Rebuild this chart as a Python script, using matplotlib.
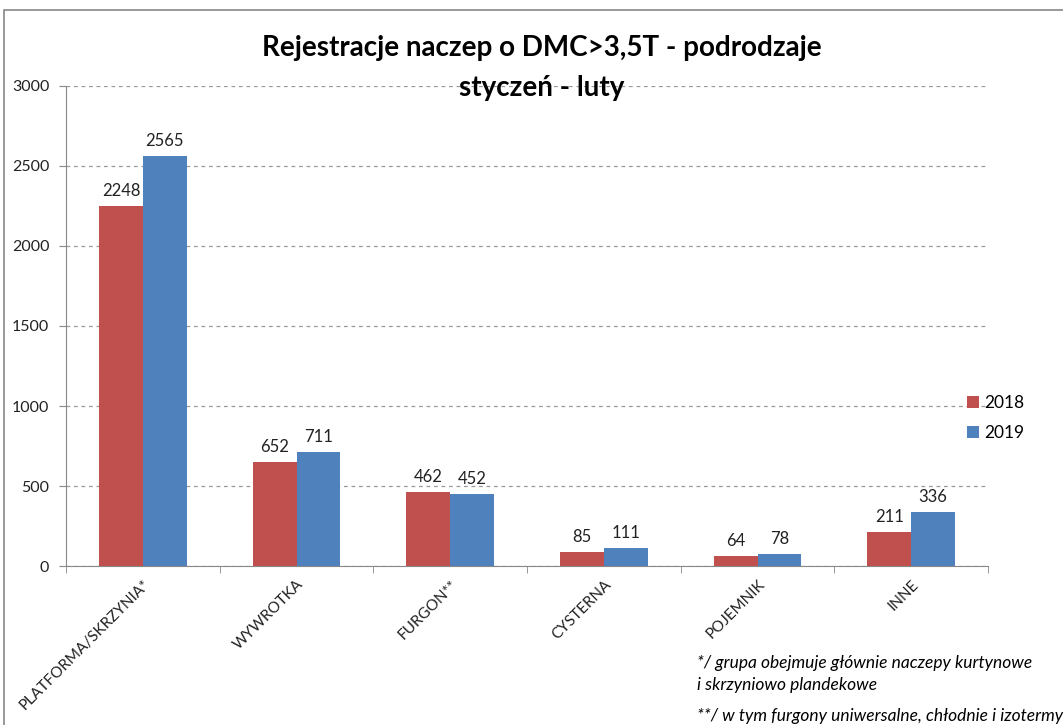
import numpy as np
import matplotlib.pyplot as plt
from matplotlib.patches import Rectangle

categories = ['PLATFORMA/SKRZYNIA*', 'WYWROTKA', 'FURGON**', 'CYSTERNA', 'POJEMNIK', 'INNE']
vals_2018 = [2248, 652, 462, 85, 64, 211]
vals_2019 = [2565, 711, 452, 111, 78, 336]
years = ['2018', '2019']

red = '#C0504D'
blue = '#4F81BD'

plt.rcParams['font.family'] = ['Lato', 'DejaVu Sans']

fig = plt.figure(figsize=(10.63, 7.25), dpi=100)
ax = fig.add_axes([0.0621, 0.2193, 0.8674, 0.6621])

x = np.arange(len(categories))
w = 0.285
b1 = ax.bar(x - w / 2, vals_2018, w, color=red, label=years[0], zorder=3)
b2 = ax.bar(x + w / 2, vals_2019, w, color=blue, label=years[1], zorder=3)

# value labels above the bars
for bars in (b1, b2):
    for rect in bars:
        h = rect.get_height()
        ax.annotate(f'{h:.0f}', (rect.get_x() + rect.get_width() / 2, h),
                    xytext=(0, 5), textcoords='offset points',
                    ha='center', va='bottom', fontsize=12, color='#222222')

ax.set_xlim(-0.5, len(categories) - 0.5)
ax.set_ylim(0, 3000)
ax.set_yticks(range(0, 3001, 500))
ax.yaxis.grid(True, linestyle=(0, (3, 3)), color='#999999', linewidth=0.9, zorder=0)

ax.set_xticks(x)
ax.set_xticklabels(categories, rotation=45, ha='right', va='top',
                   rotation_mode='anchor', fontsize=11, color='#222222')
ax.set_xticks(np.arange(-0.5, len(categories)), minor=True)
ax.tick_params(axis='x', which='major', length=0, pad=8)
ax.tick_params(axis='x', which='minor', length=5, color='#888888')
ax.tick_params(axis='y', length=5, color='#888888', labelsize=11.5,
               labelcolor='#222222', pad=7)

for side in ('top', 'right'):
    ax.spines[side].set_visible(False)
for side in ('left', 'bottom'):
    ax.spines[side].set_color('#888888')

ax.legend(loc='center left', bbox_to_anchor=(0.96, 0.308), frameon=False,
          fontsize=12.5, handlelength=0.7, handleheight=0.7, handletextpad=0.3,
          labelspacing=0.8)

fig.text(0.51, 0.934, 'Rejestracje naczep o DMC>3,5T - podrodzaje',
         ha='center', va='center', fontsize=20, fontweight='bold')
fig.text(0.51, 0.878, 'styczeń - luty', ha='center', va='center',
         fontsize=20, fontweight='bold')

fig.text(0.656, 0.085, '*/ grupa obejmuje głównie naczepy kurtynowe',
         ha='left', va='center', fontsize=12.5, style='italic')
fig.text(0.656, 0.055, 'i skrzyniowo plandekowe',
         ha='left', va='center', fontsize=12.5, style='italic')
fig.text(0.656, 0.012, '**/ w tym furgony uniwersalne, chłodnie i izotermy',
         ha='left', va='center', fontsize=12.5, style='italic')

# outer chart frame
fig.patches.append(Rectangle((0.004, -0.1), 1.2, 1.086, transform=fig.transFigure,
                             fill=False, edgecolor='#888888', linewidth=1.2))

fig.savefig('out.png', dpi=100)
